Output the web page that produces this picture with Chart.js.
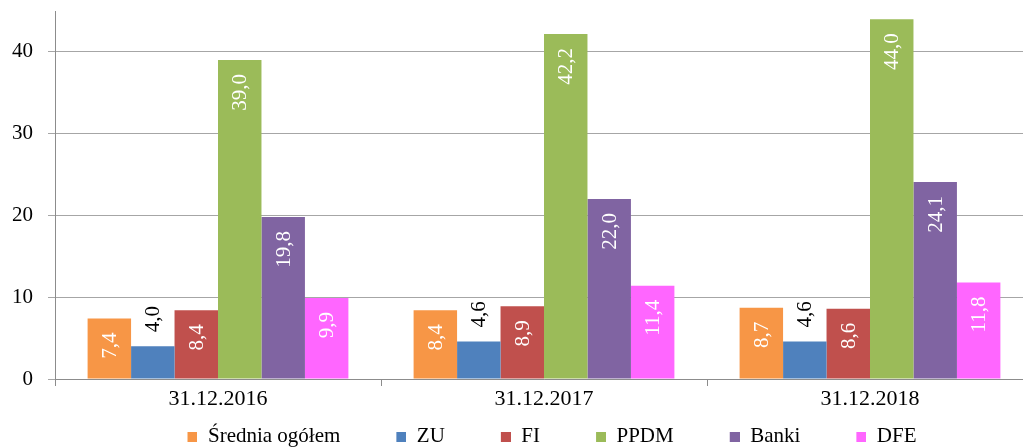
<!DOCTYPE html>
<html lang="pl">
<head>
    <meta charset="UTF-8">
    <title>Wykres</title>
    <script src="https://cdn.jsdelivr.net/npm/chart.js"></script>
    <style>
        html, body {
            margin: 0;
            padding: 0;
            background: #fff;
            overflow: hidden;
        }
        .wrap {
            width: 1023px;
            height: 447px;
            overflow: hidden;
        }
        .chart-box {
            position: relative;
            width: 1036px;
            height: 457px;
        }
    </style>
</head>
<body>
<div class="wrap">
    <div class="chart-box">
        <canvas id="wykres"></canvas>
    </div>
</div>

<script>
const categories = ['31.12.2016', '31.12.2017', '31.12.2018'];
const seriesNames = ['Średnia ogółem', 'ZU', 'FI', 'PPDM', 'Banki', 'DFE'];
const sredniaOgolem = [7.4, 8.4, 8.7];
const zu = [4.0, 4.6, 4.6];
const fi = [8.4, 8.9, 8.6];
const ppdm = [39.0, 42.2, 44.0];
const banki = [19.8, 22.0, 24.1];
const dfe = [9.9, 11.4, 11.8];
const yTicks = [0, 10, 20, 30, 40];

const kolory = ['#F79646', '#4F81BD', '#C0504D', '#9BBB59', '#8064A2', '#FF66FF'];
const serie = [sredniaOgolem, zu, fi, ppdm, banki, dfe];
const FONT = "'Liberation Serif', 'Times New Roman', serif";

// markery legendy: pusty odstep + kwadrat 10x10
const GAP = 51;
const markery = kolory.map(c => {
  const cv = document.createElement('canvas');
  cv.width = GAP + 10;
  cv.height = 10;
  const g = cv.getContext('2d');
  g.fillStyle = c;
  g.fillRect(GAP, 0, 10, 10);
  return cv;
});

// etykiety wartosci, obrocone o 90 stopni
const etykiety = {
  id: 'etykiety',
  afterLayout(chart) {
    // legenda troche w prawo, jak w oryginale
    chart.legend.left += 10;
    chart.legend.right += 10;
  },
  afterDatasetsDraw(chart) {
    const ctx = chart.ctx;
    ctx.save();
    ctx.font = '21px ' + FONT;
    ctx.textBaseline = 'middle';
    chart.data.datasets.forEach((ds, i) => {
      const meta = chart.getDatasetMeta(i);
      meta.data.forEach((bar, j) => {
        const txt = ds.data[j].toFixed(1).replace('.', ',');
        ctx.save();
        if (i === 1) {
          ctx.translate(bar.x + 1, bar.y - 14);
          ctx.rotate(-Math.PI / 2);
          ctx.textAlign = 'left';
          ctx.fillStyle = '#000';
        } else {
          ctx.translate(bar.x + 1, bar.y + 14);
          ctx.rotate(-Math.PI / 2);
          ctx.textAlign = 'right';
          ctx.fillStyle = '#fff';
        }
        ctx.fillText(txt, 0, 0);
        ctx.restore();
      });
    });
    ctx.restore();
  }
};

new Chart(document.getElementById('wykres'), {
  type: 'bar',
  data: {
    labels: categories,
    datasets: serie.map((d, i) => ({
      label: seriesNames[i],
      data: d,
      backgroundColor: kolory[i],
      categoryPercentage: 0.8,
      barPercentage: 1.0
    }))
  },
  options: {
    responsive: true,
    maintainAspectRatio: false,
    animation: false,
    layout: { padding: { left: 0, right: 3, top: 11, bottom: 0 } },
    plugins: {
      tooltip: { enabled: false },
      legend: {
        position: 'bottom',
        labels: {
          usePointStyle: true,
          pointStyleWidth: GAP + 10,
          padding: 5,
          color: '#000',
          font: { family: FONT, size: 21 },
          generateLabels(chart) {
            const items = Chart.defaults.plugins.legend.labels.generateLabels(chart);
            items.forEach(it => { it.pointStyle = markery[it.datasetIndex]; });
            return items;
          }
        }
      }
    },
    scales: {
      x: {
        grid: { offset: true, drawOnChartArea: false, tickLength: 7, color: '#8c8c8c' },
        border: { color: '#8c8c8c' },
        ticks: { color: '#000', padding: 0, font: { family: FONT, size: 22 } },
        afterFit(s) { s.height = 42; }
      },
      y: {
        min: 0,
        max: 45,
        grid: { tickLength: 7, color: '#a6a6a6' },
        border: { color: '#8c8c8c' },
        ticks: { color: '#000', padding: 15, font: { family: FONT, size: 21, lineHeight: 1 } },
        afterBuildTicks(s) { s.ticks = yTicks.map(v => ({ value: v })); },
        afterFit(s) {
          s.width = 55;
          s.paddingTop = 0;
          s.paddingBottom = 0;
        }
      }
    }
  },
  plugins: [etykiety]
});
</script>
</body>
</html>
